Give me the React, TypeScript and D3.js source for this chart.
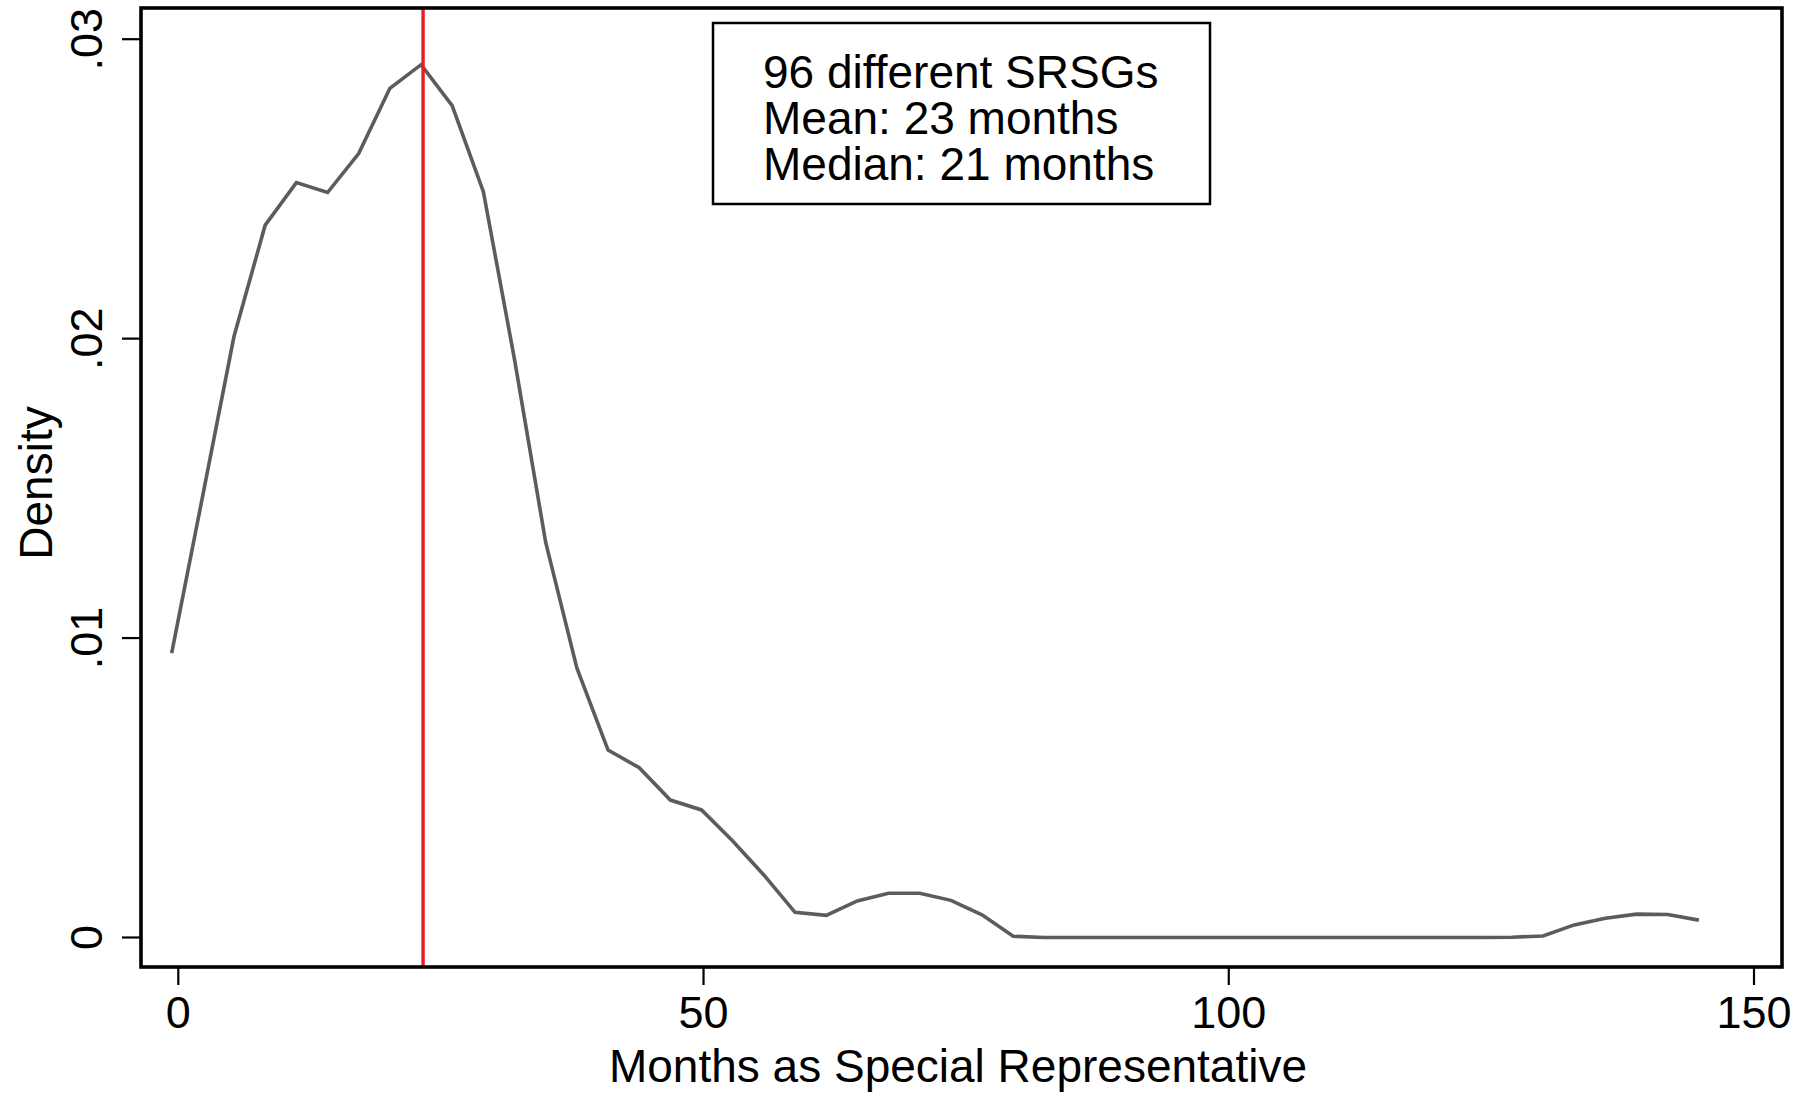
import React from "react";
import * as d3 from "d3";

// Kernel density evaluation points (months) and density values
const months: number[] = [
  -0.63, 2.34, 5.3, 8.27, 11.24, 14.21, 17.17, 20.14, 23.11, 26.07,
  29.04, 32.01, 34.97, 37.94, 40.91, 43.88, 46.84, 49.81, 52.78, 55.74,
  58.71, 61.68, 64.64, 67.61, 70.58, 73.55, 76.51, 79.48, 82.45, 85.41,
  88.38, 91.35, 94.31, 97.28, 100.25, 103.22, 106.18, 109.15, 112.12, 115.08,
  118.05, 121.02, 123.98, 126.95, 129.92, 132.89, 135.85, 138.82, 141.79, 144.75,
];
const density: number[] = [
  0.0095, 0.01478, 0.02007, 0.02379, 0.02521, 0.02488, 0.02618, 0.02836, 0.02915, 0.02778,
  0.02491, 0.0193, 0.0132, 0.009, 0.00626, 0.00567, 0.00459, 0.00426, 0.00322, 0.00209,
  0.00084, 0.00074, 0.00122, 0.00148, 0.00148, 0.00124, 0.00076, 0.00004, 0.0, 0.0,
  0.0, 0.0, 0.0, 0.0, 0.0, 0.0, 0.0, 0.0, 0.0, 0.0,
  0.0, 0.0, 0.0, 0.00001, 0.00005, 0.00042, 0.00064, 0.00078, 0.00077, 0.00058,
];
const meanMonths = 23.3;
const xTicks: number[] = [0, 50, 100, 150];
const yTicks: number[] = [0, 0.01, 0.02, 0.03];
const yTickLabels: string[] = ["0", ".01", ".02", ".03"];
const infoLines: string[] = ["96 different SRSGs", "Mean: 23 months", "Median: 21 months"];
const xTitle = "Months as Special Representative";
const yTitle = "Density";

const W = 1804;
const H = 1094;
const FONT = "'Liberation Sans', Arial, Helvetica, sans-serif";

export default function App() {
  const frame = { left: 141, top: 8, right: 1782, bottom: 967 };
  const x = d3.scaleLinear().domain([0, 150]).range([178.3, 1754]);
  const y = d3.scaleLinear().domain([0, 0.03]).range([937.5, 39.2]);

  const pts: [number, number][] = months.map((m, i) => [m, density[i]]);
  const line = d3
    .line<[number, number]>()
    .x((d) => x(d[0]))
    .y((d) => y(d[1]));

  return (
    <svg
      width={W}
      height={H}
      style={{ position: "absolute", left: 0, top: 0, background: "#fff" }}
      fontFamily={FONT}
    >
      <rect x={0} y={0} width={W} height={H} fill="#fff" />
      {/* density curve */}
      <path d={line(pts) || ""} fill="none" stroke="#5c5c5c" strokeWidth={3.6} strokeLinejoin="miter" />
      {/* mean line */}
      <line
        x1={x(meanMonths)}
        x2={x(meanMonths)}
        y1={frame.top}
        y2={frame.bottom}
        stroke="#ec1c24"
        strokeWidth={3.4}
      />
      {/* frame */}
      <rect
        x={frame.left}
        y={frame.top}
        width={frame.right - frame.left}
        height={frame.bottom - frame.top}
        fill="none"
        stroke="#000"
        strokeWidth={3.6}
      />
      {/* y ticks */}
      {yTicks.map((t, i) => (
        <g key={"y" + i}>
          <line x1={122} x2={frame.left} y1={y(t)} y2={y(t)} stroke="#000" strokeWidth={2.2} />
          <text
            transform={`translate(102,${y(t)}) rotate(-90)`}
            textAnchor="middle"
            fontSize={45}
            fill="#000"
          >
            {yTickLabels[i]}
          </text>
        </g>
      ))}
      {/* x ticks */}
      {xTicks.map((t, i) => (
        <g key={"x" + i}>
          <line x1={x(t)} x2={x(t)} y1={frame.bottom} y2={985} stroke="#000" strokeWidth={2.2} />
          <text x={x(t)} y={1028} textAnchor="middle" fontSize={45} fill="#000">
            {String(t)}
          </text>
        </g>
      ))}
      {/* axis titles */}
      <text x={958} y={1082} textAnchor="middle" fontSize={46} fill="#000">
        {xTitle}
      </text>
      <text
        transform={`translate(52,483) rotate(-90)`}
        textAnchor="middle"
        fontSize={46}
        fill="#000"
      >
        {yTitle}
      </text>
      {/* info box */}
      <rect x={713} y={23} width={497} height={181} fill="#fff" stroke="#000" strokeWidth={2.5} />
      {infoLines.map((s, i) => (
        <text key={"t" + i} x={763} y={88 + i * 46} fontSize={46} fill="#000">
          {s}
        </text>
      ))}
    </svg>
  );
}
